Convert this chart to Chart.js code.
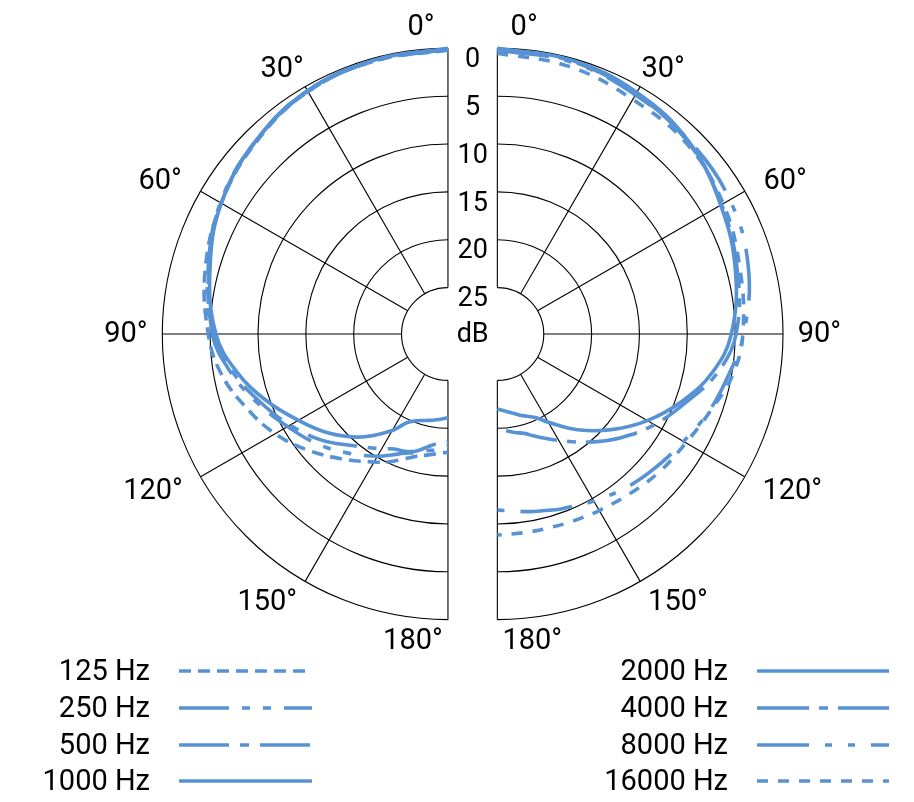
<!DOCTYPE html>
<html>
<head>
<meta charset="utf-8">
<script src="https://cdn.jsdelivr.net/npm/chart.js@4.4.0/dist/chart.umd.min.js"></script>
<style>
  html, body { margin: 0; background: #fff; }
  #wrap { position: relative; width: 914px; height: 802px; }
</style>
</head>
<body>
<div id="wrap"><canvas id="polar"></canvas></div>
<script>
// angle in degrees, 0 = front of the mic
const angles = [0, 15, 30, 45, 60, 75, 90, 100, 110, 120, 130, 140, 150, 155, 160, 165, 170, 175, 180]

// attenuation in dB, left half
const att125 = [0.2, 0.3, 0.6, 1.5, 2.5, 3.6, 4.8, 5.8, 7.4, 9.0, 10.9, 12.8, 14.4, 15.1, 15.9, 16.6, 17.0, 17.3, 17.5]
const att250 = [0.1, 0.3, 0.5, 1.4, 2.4, 3.9, 5.2, 6.8, 8.7, 10.5, 12.0, 13.6, 15.1, 15.9, 16.6, 17.0, 17.5, 17.7, 18.1]
const att500 = [0.1, 0.3, 0.6, 1.4, 2.5, 4.0, 5.3, 7.0, 9.0, 10.8, 12.6, 14.6, 16.0, 16.6, 16.8, 17.2, 17.9, 18.4, 18.6]
const att1000 = [0.0, 0.2, 0.5, 1.4, 2.5, 4.1, 5.6, 7.4, 9.6, 11.8, 13.7, 15.8, 18.2, 19.6, 20.2, 20.5, 20.7, 20.9, 21.1]

// right half
const att2000 = [0.0, 0.2, 0.7, 1.5, 2.9, 4.1, 5.4, 7.0, 9.3, 11.75, 14.3, 16.8, 19.2, 20.2, 20.7, 21.1, 21.5, 21.8, 22.0]
const att4000 = [0.1, 0.3, 0.9, 1.6, 2.8, 3.9, 4.9, 6.5, 8.9, 10.9, 13.0, 15.1, 17.0, 17.8, 18.5, 19.1, 19.4, 19.7, 19.9]
const att8000 = [0.2, 0.4, 1.0, 1.4, 1.8, 2.7, 4.1, 5.3, 6.3, 7.4, 8.2, 8.9, 9.7, 10.1, 10.4, 10.75, 11.0, 11.3, 11.45]
const att16000 = [0.5, 0.9, 1.55, 1.8, 2.6, 3.6, 4.2, 4.9, 6.2, 7.1, 7.6, 8.15, 8.55, 8.7, 8.8, 8.9, 8.9, 8.9, 8.85]

const lowLabels = ['125 Hz', '250 Hz', '500 Hz', '1000 Hz']
const highLabels = ['2000 Hz', '4000 Hz', '8000 Hz', '16000 Hz']
const ringTicks = [0, 5, 10, 15, 20, 25]
const angleTicks = [0, 30, 60, 90, 120, 150, 180]

// geometry (in dB units)
const R0 = 29.85   // radius of the 0 dB ring
const GAP = 2.58   // half of the gap between the two halves
const PX = 9.57    // pixels per dB
const MIDX = 472.65
const MIDY = 334
const BLUE = '#5792d4'
const FONT = 'Roboto, "Liberation Sans", sans-serif'

// dash styles, same order as the labels
const lowDash = [[12, 7], [50, 13, 8, 13, 8, 13], [50, 11, 9, 11], []]
const highDash = [[], [52, 10, 9, 10], [52, 16, 7, 16, 7, 16], [11, 10]]

function toPoints(side, att) {
  return angles.map((a, i) => {
    const r = R0 - att[i]
    const th = a * Math.PI / 180
    return { x: side * (GAP + r * Math.sin(th)), y: r * Math.cos(th) }
  })
}

function makeSet(label, side, att, dash) {
  return {
    label: label,
    data: toPoints(side, att),
    showLine: true,
    borderColor: BLUE,
    backgroundColor: BLUE,
    borderWidth: 3.6,
    borderDash: dash,
    pointRadius: 0,
    tension: 0.4,
    fill: false
  }
}

const lowAtt = [att125, att250, att500, att1000]
const highAtt = [att2000, att4000, att8000, att16000]
const datasets = []
lowAtt.forEach((a, i) => datasets.push(makeSet(lowLabels[i], -1, a, lowDash[i])))
highAtt.forEach((a, i) => datasets.push(makeSet(highLabels[i], 1, a, highDash[i])))

// label spots around each half: [angle, radius px] measured from the half's centre
const labelSpots = [[5, 308], [32, 313], [62, 326], [90, 322], [118, 334], [146, 323], [173.5, 309]]

const polarGrid = {
  id: 'polarGrid',
  beforeDatasetsDraw(chart) {
    const ctx = chart.ctx
    const xs = chart.scales.x, ys = chart.scales.y
    const k = xs.getPixelForValue(1) - xs.getPixelForValue(0)
    const cy = ys.getPixelForValue(0)
    ctx.save()
    ctx.strokeStyle = '#000'
    ctx.lineWidth = 1.1
    ;[-1, 1].forEach(side => {
      const cx = xs.getPixelForValue(side * GAP)
      ringTicks.forEach(t => {
        ctx.beginPath()
        ctx.arc(cx, cy, (R0 - t) * k, -Math.PI / 2, Math.PI / 2, side < 0)
        ctx.stroke()
      })
      const rIn = (R0 - 25) * k, rOut = R0 * k
      angleTicks.forEach(a => {
        const th = a * Math.PI / 180
        ctx.beginPath()
        ctx.moveTo(cx + side * rIn * Math.sin(th), cy - rIn * Math.cos(th))
        ctx.lineTo(cx + side * rOut * Math.sin(th), cy - rOut * Math.cos(th))
        ctx.stroke()
      })
    })
    ctx.restore()
  },
  afterDraw(chart) {
    const ctx = chart.ctx
    const xs = chart.scales.x, ys = chart.scales.y
    const k = xs.getPixelForValue(1) - xs.getPixelForValue(0)
    const cy = ys.getPixelForValue(0)
    const mx = xs.getPixelForValue(0)
    ctx.save()
    ctx.fillStyle = '#000'
    ctx.textAlign = 'center'
    ctx.textBaseline = 'middle'

    // dB scale in the gap
    ctx.font = '27px ' + FONT
    ringTicks.forEach(t => {
      ctx.fillText(String(t), mx, cy - (R0 - t) * k + 12)
    })
    ctx.fillText('dB', mx, cy + 1)

    // angle labels
    ctx.font = '29px ' + FONT
    ;[-1, 1].forEach(side => {
      const cx = xs.getPixelForValue(side * GAP)
      angleTicks.forEach((a, i) => {
        const th = labelSpots[i][0] * Math.PI / 180
        const r = labelSpots[i][1]
        ctx.fillText(a + '°', cx + side * r * Math.sin(th), cy - r * Math.cos(th) + 1)
      })
    })

    // legend
    const rows = [671, 708, 745, 781]
    ctx.font = '29px ' + FONT
    ctx.textAlign = 'right'
    const cols = [
      { labels: lowLabels, dash: lowDash, tx: 150, x0: 179, x1: 312 },
      { labels: highLabels, dash: highDash, tx: 728, x0: 757, x1: 889 }
    ]
    cols.forEach(c => {
      c.labels.forEach((lab, i) => {
        ctx.fillText(lab, c.tx, rows[i] + 2)
        ctx.beginPath()
        ctx.strokeStyle = BLUE
        ctx.lineWidth = 3.6
        ctx.setLineDash(c.dash[i])
        ctx.moveTo(c.x0, rows[i])
        ctx.lineTo(c.x1, rows[i])
        ctx.stroke()
      })
    })
    ctx.restore()
  }
}

new Chart(document.getElementById('polar'), {
  type: 'scatter',
  data: { datasets: datasets },
  options: {
    responsive: true,
    maintainAspectRatio: false,
    animation: false,
    layout: { padding: 0 },
    plugins: { legend: { display: false }, tooltip: { enabled: false } },
    scales: {
      x: { type: 'linear', display: false, min: -MIDX / PX, max: (914 - MIDX) / PX },
      y: { type: 'linear', display: false, min: -(802 - MIDY) / PX, max: MIDY / PX }
    }
  },
  plugins: [polarGrid]
})
</script>
</body>
</html>
